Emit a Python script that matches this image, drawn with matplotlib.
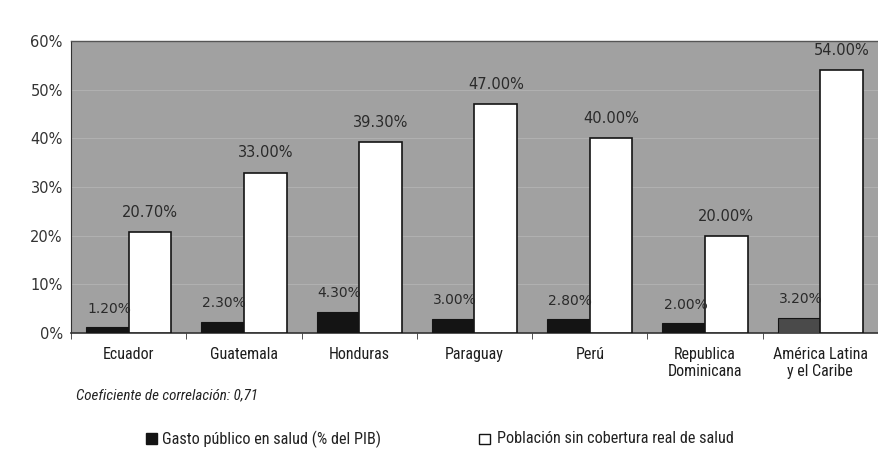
import numpy as np
import matplotlib.pyplot as plt
from matplotlib.patches import Rectangle

paises = ['Ecuador', 'Guatemala', 'Honduras', 'Paraguay', 'Perú',
          'Republica\nDominicana', 'América Latina\ny el Caribe']
gasto = [1.20, 2.30, 4.30, 3.00, 2.80, 2.00, 3.20]
sin_cobertura = [20.70, 33.00, 39.30, 47.00, 40.00, 20.00, 54.00]
colores_gasto = ['#141414'] * 6 + ['#4a4a4a']

narrow = ['Liberation Sans Narrow', 'Roboto Condensed', 'DejaVu Sans']
plt.rcParams['font.family'] = ['DejaVu Sans']

fig = plt.figure(figsize=(8.79, 4.62), dpi=100)
ax = fig.add_axes([0.0808, 0.279, 0.918, 0.632])
ax.set_facecolor('#a1a1a1')

x = np.arange(len(paises))
w = 0.37
ax.bar(x - 0.185, gasto, w, color=colores_gasto, edgecolor='#141414', linewidth=0.8, zorder=3)
ax.bar(x + 0.185, sin_cobertura, w, color='white', edgecolor='#141414', linewidth=1.2, zorder=3)

for i in range(len(paises)):
    ax.text(x[i] - 0.17, gasto[i] + 2.4, '%.2f%%' % gasto[i], ha='center', va='bottom',
            fontsize=10, color='#2a2a2a', zorder=4)
    ax.text(x[i] + 0.185, sin_cobertura[i] + 2.5, '%.2f%%' % sin_cobertura[i], ha='center',
            va='bottom', fontsize=10.5, color='#2a2a2a', zorder=4)

ax.set_xlim(-0.5, len(paises) - 0.5)
ax.set_ylim(0, 60)
ax.set_yticks(np.arange(0, 61, 10))
ax.set_yticklabels(['%d%%' % v for v in range(0, 61, 10)], fontsize=10.5, color='#333333')
ax.yaxis.grid(True, color='#b0b0b0', linewidth=0.8, zorder=0)
ax.tick_params(axis='y', length=0, pad=6)

ax.set_xticks(x)
ax.set_xticklabels(paises, family=narrow, fontsize=11.5, va='top', color='#1e1e1e')
ax.tick_params(axis='x', length=0, pad=10)
ax.set_xticks(np.arange(-0.5, len(paises), 1), minor=True)
ax.tick_params(axis='x', which='minor', length=4, color='#333333')

for s in ['top', 'right']:
    ax.spines[s].set_visible(False)
ax.spines['left'].set_color('#333333')
ax.spines['bottom'].set_color('#333333')
ax.spines['bottom'].set_linewidth(1.2)
ax.plot([-0.5, len(paises) - 0.5], [60, 60], color='#555555', linewidth=1.0, clip_on=False, zorder=5)

fig.text(0.087, 0.145, 'Coeficiente de correlación: 0,71', family=narrow, style='italic',
         fontsize=10.8, color='#222222', va='center')

fig.patches.append(Rectangle((0.166, 0.038), 0.013, 0.024, transform=fig.transFigure,
                             facecolor='#141414', edgecolor='#141414'))
fig.text(0.184, 0.050, 'Gasto público en salud (% del PIB)', family=narrow, fontsize=11.7,
         color='#222222', va='center')
fig.patches.append(Rectangle((0.545, 0.038), 0.012, 0.023, transform=fig.transFigure,
                             facecolor='white', edgecolor='#141414', linewidth=1.0))
fig.text(0.565, 0.050, 'Población sin cobertura real de salud', family=narrow, fontsize=11.7,
         color='#222222', va='center')

fig.savefig('out.png', dpi=100)
